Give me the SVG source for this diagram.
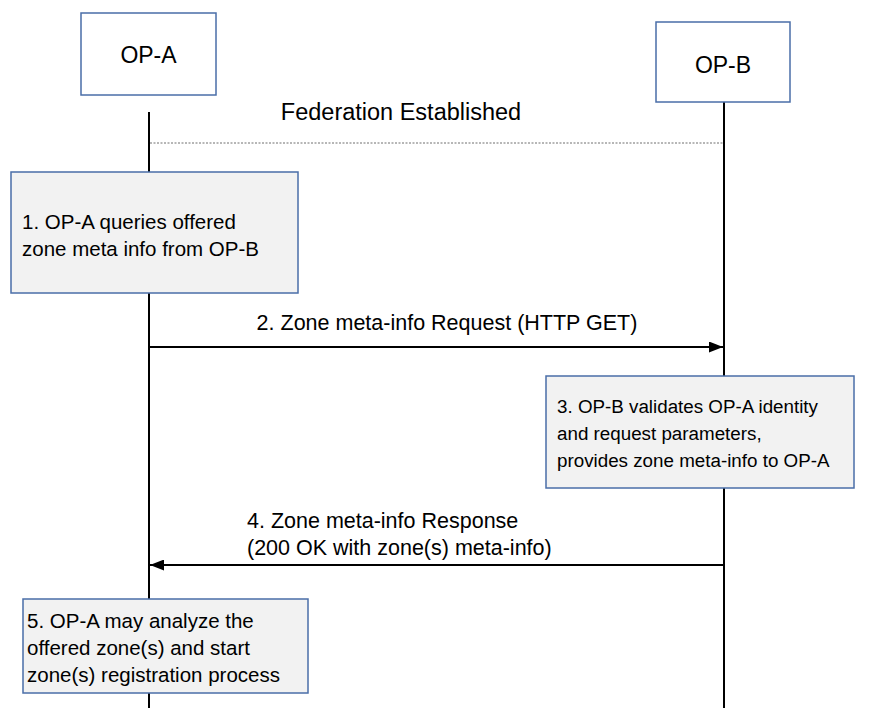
<svg xmlns="http://www.w3.org/2000/svg" width="869" height="708" viewBox="0 0 869 708">
  <style>
    .actor { fill: #ffffff; stroke: #4a6ea8; stroke-width: 1.5; }
    .note { fill: #f2f2f2; stroke: #4a6ea8; stroke-width: 1.5; }
    .life { stroke: #000000; stroke-width: 2; fill: none; }
    .msg { stroke: #000000; stroke-width: 2; fill: none; }
    .dots { stroke: #6f6f6f; stroke-width: 1; stroke-dasharray: 2 1.5; fill: none; }
    text { font-family: "Liberation Sans", Arial, sans-serif; fill: #000000; }
    .title { font-size: 23px; text-anchor: middle; }
    .label { font-size: 21.5px; }
    .body { font-size: 20.5px; }
    .narrow { font-size: 18.8px; }
  </style>
  <defs>
    <marker id="arrow" viewBox="0 0 14 11" refX="14" refY="5.5" markerWidth="14" markerHeight="11" markerUnits="userSpaceOnUse" orient="auto">
      <path d="M0,0 L14,5.5 L0,11 Z" fill="#000000"/>
    </marker>
  </defs>

  <!-- lifelines and messages -->
  <g id="connectors">
    <line class="life" x1="149" y1="112" x2="149" y2="708"/>
    <line class="life" x1="724" y1="102" x2="724" y2="708"/>
    <line class="dots" x1="150" y1="143" x2="723" y2="143"/>
    <line class="msg" x1="149" y1="347" x2="723" y2="347" marker-end="url(#arrow)"/>
    <line class="msg" x1="723" y1="565" x2="150" y2="565" marker-end="url(#arrow)"/>
    <text x="401" y="120" text-anchor="middle" font-size="23.5">Federation Established</text>
    <text class="label" x="447" y="330" text-anchor="middle">2. Zone meta-info Request (HTTP GET)</text>
    <text class="label" x="247" y="528">4. Zone meta-info Response</text>
    <text class="label" x="247" y="555">(200 OK with zone(s) meta-info)</text>
  </g>

  <g id="op-a">
    <rect class="actor" x="81" y="13" width="135" height="82"/>
    <text class="title" x="148.5" y="63">OP-A</text>
  </g>

  <g id="op-b">
    <rect class="actor" x="656" y="22" width="134" height="80"/>
    <text class="title" x="723" y="73">OP-B</text>
  </g>

  <g id="step1">
    <rect class="note" x="11" y="172" width="287" height="121"/>
    <text class="body" x="22" y="229">1. OP-A queries offered</text>
    <text class="body" x="22" y="256">zone meta info from OP-B</text>
  </g>

  <g id="step3">
    <rect class="note" x="546" y="376" width="308" height="112"/>
    <text class="narrow" x="557" y="413">3. OP-B validates OP-A identity</text>
    <text class="narrow" x="557" y="440">and request parameters,</text>
    <text class="narrow" x="557" y="467">provides zone meta-info to OP-A</text>
  </g>

  <g id="step5">
    <rect class="note" x="23" y="599" width="285" height="94"/>
    <text class="body" x="27" y="628">5. OP-A may analyze the</text>
    <text class="body" x="27" y="655">offered zone(s) and start</text>
    <text class="body" x="27" y="682">zone(s) registration process</text>
  </g>
</svg>
